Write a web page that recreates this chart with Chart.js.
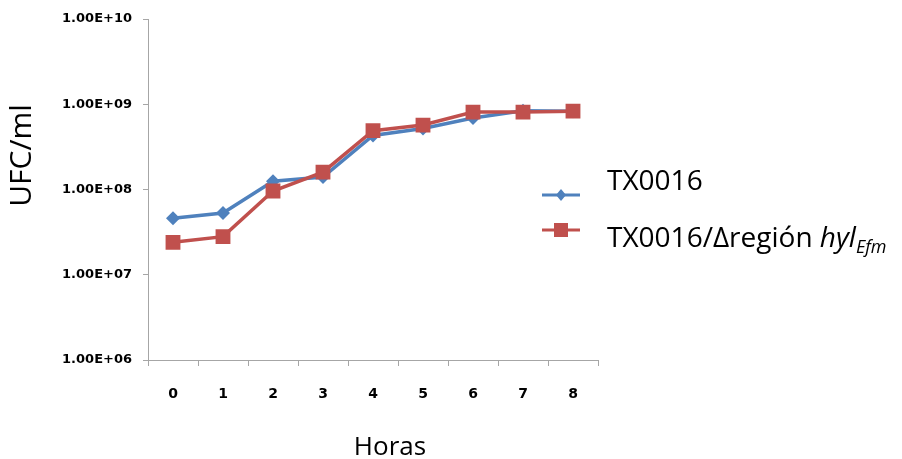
<!DOCTYPE html>
<html>
<head>
<meta charset="utf-8">
<script src="https://cdn.jsdelivr.net/npm/chart.js@4"></script>
<style>
  html, body { margin: 0; padding: 0; background: #fff; }
  #wrap { width: 902px; height: 459px; }
</style>
</head>
<body>
<div id="wrap"><canvas id="c" width="902" height="459"></canvas></div>
<script>
// ---------- data ----------
const hours = ["0", "1", "2", "3", "4", "5", "6", "7", "8"];
const tx0016 = [4.6e7, 5.3e7, 1.25e8, 1.4e8, 4.3e8, 5.2e8, 6.9e8, 8.4e8, 8.3e8];
const tx0016Delta = [2.4e7, 2.8e7, 9.6e7, 1.6e8, 4.9e8, 5.7e8, 8.1e8, 8.1e8, 8.3e8];
const yTicks = [1e6, 1e7, 1e8, 1e9, 1e10];
const seriesNames = ["TX0016", "TX0016/\u0394regi\u00f3n "];

const BLUE = "#4f81bd";
const RED = "#c0504d";
const AXIS = "#a6a6a6";
const TXT_FONT = "'Open Sans', 'Noto Sans', sans-serif";

const fmtExp = (v) => "1.00E+" + String(Math.round(Math.log10(v))).padStart(2, "0");

// draws axis titles + legend (Excel-like layout, legend offset to the right)
const extras = {
  id: "extras",
  afterDraw(chart) {
    const { ctx, chartArea: a } = chart;
    ctx.save();
    ctx.fillStyle = "#000";

    // y title
    ctx.save();
    ctx.translate(22, (a.top + a.bottom) / 2 - 34);
    ctx.rotate(-Math.PI / 2);
    ctx.font = "30px " + TXT_FONT;
    ctx.textAlign = "center";
    ctx.textBaseline = "middle";
    ctx.fillText("UFC/ml", 0, 0);
    ctx.restore();

    // x title
    ctx.font = "26px " + TXT_FONT;
    ctx.textAlign = "center";
    ctx.textBaseline = "alphabetic";
    ctx.fillText("Horas", (a.left + a.right) / 2 + 17, a.bottom + 95);

    // legend
    const x0 = a.right - 56, x1 = a.right - 18, xm = (x0 + x1) / 2;
    const rows = [
      { color: BLUE, y: 195, base: 190, shape: "diamond" },
      { color: RED, y: 230, base: 247, shape: "square" },
    ];
    rows.forEach((r, i) => {
      ctx.strokeStyle = r.color;
      ctx.fillStyle = r.color;
      ctx.lineWidth = 3;
      ctx.beginPath();
      ctx.moveTo(x0, r.y);
      ctx.lineTo(x1, r.y);
      ctx.stroke();
      ctx.beginPath();
      if (r.shape === "diamond") {
        ctx.moveTo(xm, r.y - 6);
        ctx.lineTo(xm + 5, r.y);
        ctx.lineTo(xm, r.y + 6);
        ctx.lineTo(xm - 5, r.y);
        ctx.closePath();
        ctx.fill();
      } else {
        ctx.fillRect(xm - 7, r.y - 7, 14, 14);
      }

      ctx.fillStyle = "#000";
      ctx.textAlign = "left";
      ctx.font = "28px " + TXT_FONT;
      let tx = a.right + 9;
      ctx.fillText(seriesNames[i], tx, r.base);
      if (i === 1) {
        tx += ctx.measureText(seriesNames[i]).width;
        ctx.font = "italic 28px " + TXT_FONT;
        ctx.fillText("hyl", tx, r.base);
        tx += ctx.measureText("hyl").width;
        ctx.font = "italic 18px " + TXT_FONT;
        ctx.fillText("Efm", tx, r.base + 6);
      }
    });
    ctx.restore();
  },
};

new Chart(document.getElementById("c"), {
  type: "line",
  data: {
    labels: hours,
    datasets: [
      {
        label: seriesNames[1],
        data: tx0016Delta,
        borderColor: RED,
        backgroundColor: RED,
        borderWidth: 3.5,
        pointStyle: "rect",
        pointRadius: 10.5,
        pointBorderWidth: 0,
        tension: 0,
      },
      {
        label: seriesNames[0],
        data: tx0016,
        borderColor: BLUE,
        backgroundColor: BLUE,
        borderWidth: 3.5,
        pointStyle: "rectRot",
        pointRadius: 7,
        pointBorderWidth: 0,
        tension: 0,
      },
    ],
  },
  options: {
    responsive: false,
    animation: false,
    layout: { padding: { left: 0, top: 19, right: 304, bottom: 0 } },
    plugins: { legend: { display: false }, tooltip: { enabled: false } },
    scales: {
      x: {
        type: "category",
        offset: true,
        afterFit: (s) => { s.height = 99; },
        border: { color: AXIS, width: 1 },
        grid: { offset: true, drawOnChartArea: false, tickLength: 6, color: AXIS },
        ticks: {
          padding: 20,
          color: "#000",
          font: { family: "'DejaVu Sans'", weight: "bold", size: 14 },
        },
      },
      y: {
        type: "logarithmic",
        min: 1e6,
        max: 1e10,
        afterFit: (s) => { s.width = 148; },
        afterBuildTicks: (s) => { s.ticks = yTicks.map((v) => ({ value: v })); },
        border: { color: AXIS, width: 1 },
        grid: { drawOnChartArea: false, tickLength: 5, color: AXIS },
        ticks: {
          padding: 11,
          color: "#000",
          font: { family: "'DejaVu Sans'", weight: "bold", size: 13 },
          callback: (v) => fmtExp(v),
        },
      },
    },
  },
  plugins: [extras],
});
</script>
</body>
</html>
